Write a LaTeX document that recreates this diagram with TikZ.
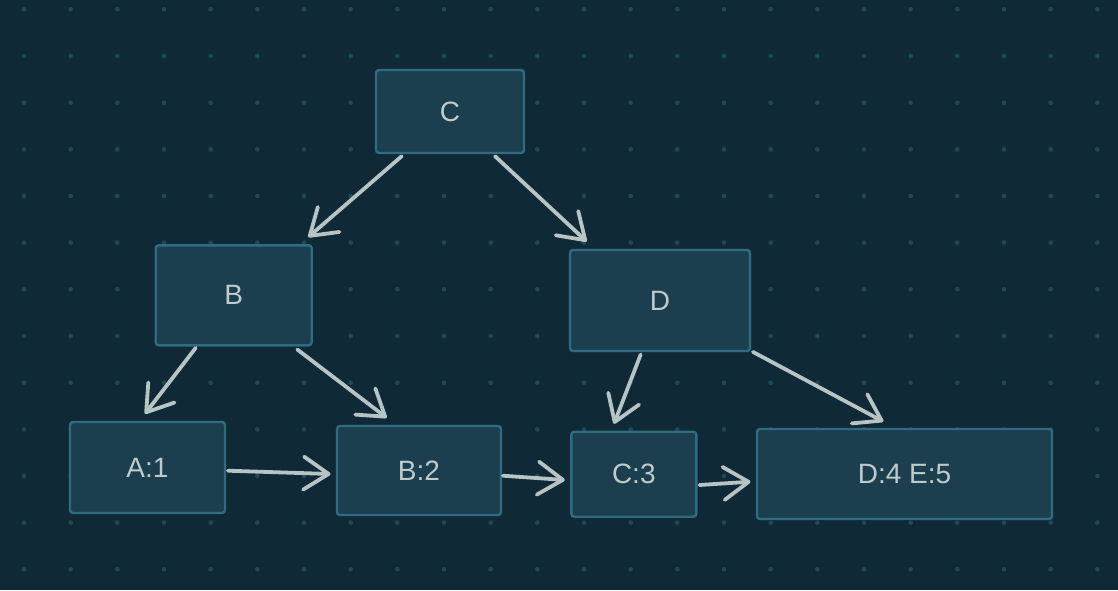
\documentclass[tikz,border=0pt]{standalone}
\usepackage{fontspec}
\setmainfont{Liberation Sans}
\usetikzlibrary{arrows.meta}
\definecolor{bgc}{HTML}{0F2936}
\definecolor{dotc}{HTML}{1F4858}
\definecolor{nodefill}{HTML}{1B3F4E}
\definecolor{nodeborder}{HTML}{2F6B81}
\definecolor{txtc}{HTML}{BFCACA}
\definecolor{arrc}{HTML}{B7C4C4}
\tikzset{
  box/.style={draw=nodeborder, fill=nodefill, line width=2.4pt, rounded corners=3pt,
    inner sep=0pt, text=txtc, font=\fontsize{28}{31}\selectfont},
  arr/.style={draw=arrc, line width=3.8pt, line cap=round,
    -{Straight Barb[length=25pt,width=33pt,line width=3.8pt,round]}},
}
\begin{document}
\begin{tikzpicture}[x=1pt,y=-1pt]
\fill[bgc] (0,0) rectangle (1118,590);
\useasboundingbox (0,0) rectangle (1118,590);
\foreach \i in {0,...,23}{
  \foreach \j in {0,...,12}{
    \fill[dotc] ({24+\i*46.667},{9.3+\j*46.667}) circle (2.3pt);
  }
}
\node[box, minimum width=148pt, minimum height=83pt] (C) at (450,111.5) {C};
\node[box, minimum width=156pt, minimum height=100pt] (B) at (233.7,295.3) {B};
\node[box, minimum width=180pt, minimum height=101pt] (D) at (660,300.5) {D};
\node[box, minimum width=155pt, minimum height=91pt] (A1) at (147.5,467.5) {A:1};
\node[box, minimum width=164pt, minimum height=89pt] (B2) at (419,470.5) {B:2};
\node[box, minimum width=125pt, minimum height=85pt] (C3) at (633.8,474.2) {C:3};
\node[box, minimum width=295pt, minimum height=90pt] (DE) at (904.5,474) {D:4 E:5};

\draw[arr] ([xshift=-48.3pt,yshift=-2pt]C.south) -- ([xshift=74.6pt,yshift=7pt]B.north);
\draw[arr] ([xshift=45pt,yshift=-2pt]C.south) -- ([xshift=-73.3pt,yshift=7.3pt]D.north);
\draw[arr] ([xshift=-38pt,yshift=-1.4pt]B.south) -- ([xshift=-2.5pt,yshift=7pt]A1.north);
\draw[arr] ([xshift=63.6pt,yshift=-3pt]B.south) -- ([xshift=-32.3pt,yshift=7pt]B2.north);
\draw[arr] ([xshift=-19.3pt,yshift=-2.3pt]D.south) -- ([xshift=-19.8pt,yshift=6.7pt]C3.north);
\draw[arr] ([xshift=1.7pt,yshift=0.3pt]D.south east) -- ([xshift=-21.2pt,yshift=6.3pt]DE.north);
\draw[arr] ([xshift=1.7pt,yshift=-3.2pt]A1.east) -- ([xshift=-5.3pt,yshift=-3.5pt]B2.west);
\draw[arr] ([xshift=0.7pt,yshift=-5.2pt]B2.east) -- ([xshift=-5.3pt,yshift=-5.8pt]C3.west);
\draw[arr] ([xshift=2pt,yshift=-10.8pt]C3.east) -- ([xshift=-5.3pt,yshift=-7.7pt]DE.west);
\end{tikzpicture}
\end{document}
